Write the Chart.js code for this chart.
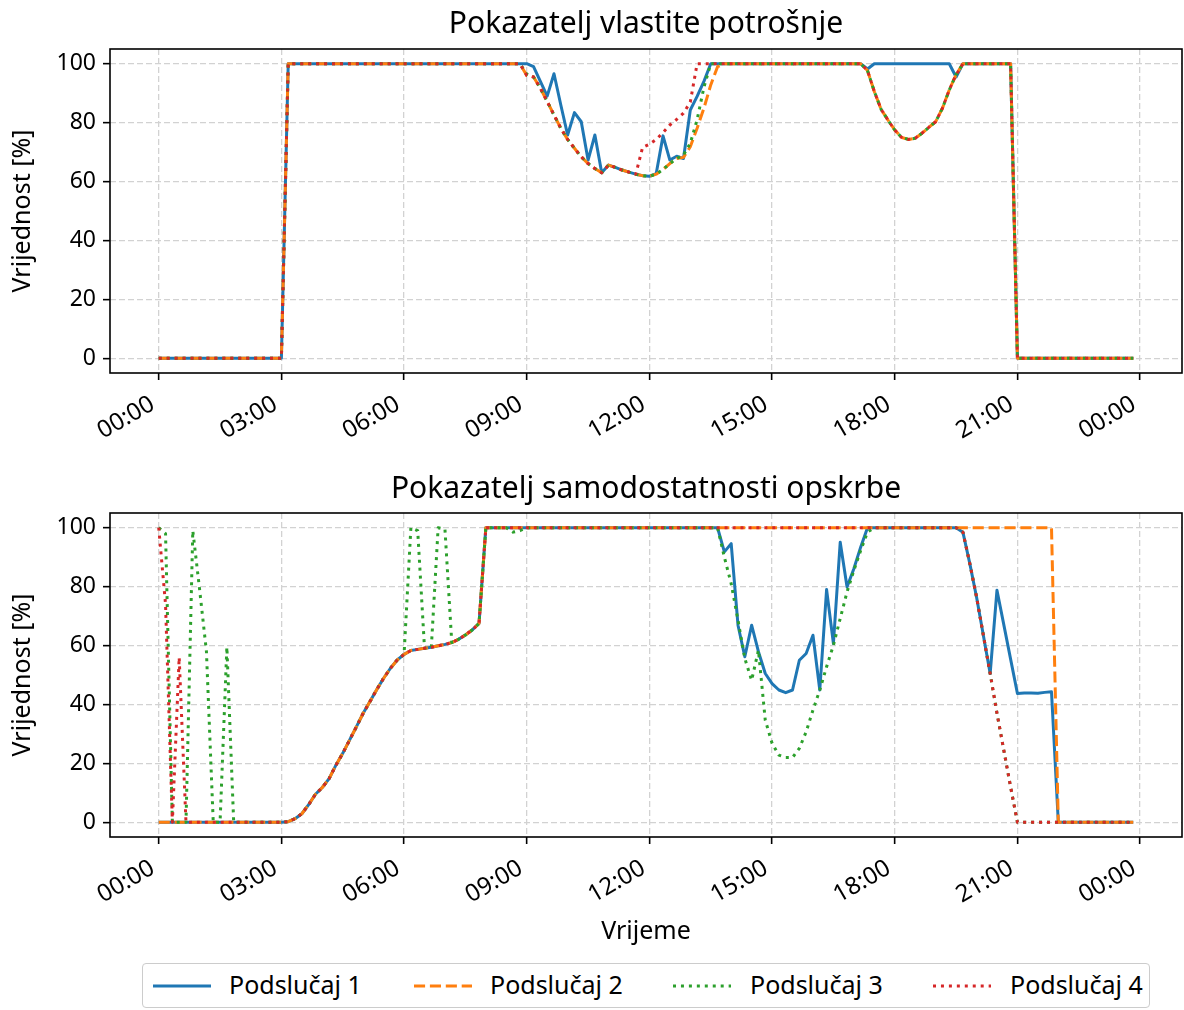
<!DOCTYPE html>
<html>
<head>
<meta charset="utf-8">
<script src="https://cdn.jsdelivr.net/npm/chart.js@4.4.1/dist/chart.umd.min.js"></script>
<style>
  html, body { margin: 0; padding: 0; background: #fff; }
  body { width: 1184px; height: 1010px; position: relative; overflow: hidden; font-family: "Noto Sans", sans-serif; }
  #c1 { position: absolute; left: 0; top: 0; }
  #c2 { position: absolute; left: 0; top: 460px; }
  #legend { position: absolute; left: 142px; top: 963px; width: 1006px; height: 43px;
            border: 1px solid #cccccc; border-radius: 4px; background: #fff; }
  .item-line { position: absolute; top: 14px; width: 58px; height: 16px; }
  .item-text { position: absolute; top: 5px; font-size: 25px; line-height: 30px; color: #000; white-space: nowrap; }
</style>
</head>
<body>
<canvas id="c1" width="1184" height="450"></canvas>
<canvas id="c2" width="1184" height="500"></canvas>
<div id="legend"></div>
<script>
// Time of day, 10-minute steps
const times = [
  "00:00","00:10","00:20","00:30","00:40","00:50","01:00","01:10","01:20","01:30","01:40","01:50",
  "02:00","02:10","02:20","02:30","02:40","02:50","03:00","03:10","03:20","03:30","03:40","03:50",
  "04:00","04:10","04:20","04:30","04:40","04:50","05:00","05:10","05:20","05:30","05:40","05:50",
  "06:00","06:10","06:20","06:30","06:40","06:50","07:00","07:10","07:20","07:30","07:40","07:50",
  "08:00","08:10","08:20","08:30","08:40","08:50","09:00","09:10","09:20","09:30","09:40","09:50",
  "10:00","10:10","10:20","10:30","10:40","10:50","11:00","11:10","11:20","11:30","11:40","11:50",
  "12:00","12:10","12:20","12:30","12:40","12:50","13:00","13:10","13:20","13:30","13:40","13:50",
  "14:00","14:10","14:20","14:30","14:40","14:50","15:00","15:10","15:20","15:30","15:40","15:50",
  "16:00","16:10","16:20","16:30","16:40","16:50","17:00","17:10","17:20","17:30","17:40","17:50",
  "18:00","18:10","18:20","18:30","18:40","18:50","19:00","19:10","19:20","19:30","19:40","19:50",
  "20:00","20:10","20:20","20:30","20:40","20:50","21:00","21:10","21:20","21:30","21:40","21:50",
  "22:00","22:10","22:20","22:30","22:40","22:50","23:00","23:10","23:20","23:30","23:40","23:50"
];

const seriesNames = ["Podslučaj 1", "Podslučaj 2", "Podslučaj 3", "Podslučaj 4"];

// Pokazatelj vlastite potrošnje [%]
const selfUse1 = [
  0,0,0,0,0,0,0,0,0,0,0,0,
  0,0,0,0,0,0,0,100,100,100,100,100,
  100,100,100,100,100,100,100,100,100,100,100,100,
  100,100,100,100,100,100,100,100,100,100,100,100,
  100,100,100,100,100,100,100,99,94,89,96.6,86,
  75.8,83.4,80.3,67.3,75.8,63,65.6,64.8,63.9,63.2,62.5,62,
  61.8,62.7,75.5,67.3,68.6,67.8,84.3,88.9,94,100,100,100,
  100,100,100,100,100,100,100,100,100,100,100,100,
  100,100,100,100,100,100,100,100,98.2,100,100,100,
  100,100,100,100,100,100,100,100,100,95.5,100,100,
  100,100,100,100,100,100,0,0,0,0,0,0,
  0,0,0,0,0,0,0,0,0,0,0,0
];
const selfUse2 = [
  0,0,0,0,0,0,0,0,0,0,0,0,
  0,0,0,0,0,0,0,100,100,100,100,100,
  100,100,100,100,100,100,100,100,100,100,100,100,
  100,100,100,100,100,100,100,100,100,100,100,100,
  100,100,100,100,100,100,96,95.5,91.7,87.2,82.6,78.1,
  74.3,71.3,68.4,66.1,64.4,63,65.6,64.8,63.9,63.2,62.5,62,
  61.8,62.5,64.1,66.1,67.8,68.2,71.8,78.1,84.9,92.8,99,100,
  100,100,100,100,100,100,100,100,100,100,100,100,
  100,100,100,100,100,100,100,100,97.7,90.6,84.5,80.9,
  77.5,75,74.3,74.7,76.4,78.4,80.3,84.9,91.1,96.3,100,100,
  100,100,100,100,100,100,0,0,0,0,0,0,
  0,0,0,0,0,0,0,0,0,0,0,0
];
const selfUse3 = [
  0,0,0,0,0,0,0,0,0,0,0,0,
  0,0,0,0,0,0,0,100,100,100,100,100,
  100,100,100,100,100,100,100,100,100,100,100,100,
  100,100,100,100,100,100,100,100,100,100,100,100,
  100,100,100,100,100,100,96.5,95.5,91.7,87.2,82.6,78.1,
  74.3,71.3,68.4,66.1,64.4,63,65.6,64.8,63.9,63.2,62.5,62,
  61.8,62.5,64.1,66.1,67.8,69,73,81,92,100,100,100,
  100,100,100,100,100,100,100,100,100,100,100,100,
  100,100,100,100,100,100,100,100,97.7,90.6,84.5,80.9,
  77.5,75,74.3,74.7,76.4,78.4,80.3,84.9,91.1,96.3,100,100,
  100,100,100,100,100,100,0,0,0,0,0,0,
  0,0,0,0,0,0,0,0,0,0,0,0
];
const selfUse4 = [
  0,0,0,0,0,0,0,0,0,0,0,0,
  0,0,0,0,0,0,0,100,100,100,100,100,
  100,100,100,100,100,100,100,100,100,100,100,100,
  100,100,100,100,100,100,100,100,100,100,100,100,
  100,100,100,100,100,100,96,95.5,91.7,87.2,82.6,78.1,
  74.3,71.3,68.4,66.1,64.4,63,65.6,64.8,63.9,63.2,62.5,71.6,
  72.7,74.3,76.6,79.2,81.1,83.2,87,100,100,100,100,100,
  100,100,100,100,100,100,100,100,100,100,100,100,
  100,100,100,100,100,100,100,100,97.7,90.6,84.5,80.9,
  77.5,75,74.3,74.7,76.4,78.4,80.3,84.9,91.1,96.3,100,100,
  100,100,100,100,100,100,0,0,0,0,0,0,
  0,0,0,0,0,0,0,0,0,0,0,0
];

// Pokazatelj samodostatnosti opskrbe [%]
const selfSuff1 = [
  0,0,0,0,0,0,0,0,0,0,0,0,
  0,0,0,0,0,0,0,0.2,1.2,2.9,6,9.5,
  11.8,14.8,19.4,23.4,27.9,32.4,37,41,45.1,48.9,52.3,55.1,
  57,58.3,58.7,59.1,59.4,59.9,60.4,61,62.1,63.6,65.3,67.5,
  100,100,100,100,100,100,100,100,100,100,100,100,
  100,100,100,100,100,100,100,100,100,100,100,100,
  100,100,100,100,100,100,100,100,100,100,100,91.8,
  94.6,66.9,56.2,66.9,57.9,50.5,47.1,44.9,44,44.9,55,57.3,
  63.5,44.9,79,60.7,95.1,79.9,86.1,93.4,100,100,100,100,
  100,100,100,100,100,100,100,100,100,100,98.5,88,
  76.5,63.5,50.5,78.8,67.1,55.4,43.7,43.9,43.9,43.8,44.1,44.3,
  0,0,0,0,0,0,0,0,0,0,0,0
];
const selfSuff2 = [
  0,0,0,0,0,0,0,0,0,0,0,0,
  0,0,0,0,0,0,0,0.2,1.2,2.9,6,9.5,
  11.8,14.8,19.4,23.4,27.9,32.4,37,41,45.1,48.9,52.3,55.1,
  57,58.3,58.7,59.1,59.4,59.9,60.4,61,62.1,63.6,65.3,67.5,
  100,100,100,100,100,100,100,100,100,100,100,100,
  100,100,100,100,100,100,100,100,100,100,100,100,
  100,100,100,100,100,100,100,100,100,100,100,100,
  100,100,100,100,100,100,100,100,100,100,100,100,
  100,100,100,100,100,100,100,100,100,100,100,100,
  100,100,100,100,100,100,100,100,100,100,100,100,
  100,100,100,100,100,100,100,100,100,100,100,100,
  0,0,0,0,0,0,0,0,0,0,0,0
];
const selfSuff3 = [
  100,98,0,0,0,99,79,58,0,0,59.5,0,
  0,0,0,0,0,0,0,0.2,1.2,2.9,6,9.5,
  11.8,14.8,19.4,23.4,27.9,32.4,37,41,45.1,48.9,52.3,55.1,
  57,100,99,59.1,59.4,100,99.5,61,62.1,63.6,65.3,67.5,
  100,100,100,100,98.5,99,100,100,100,100,100,100,
  100,100,100,100,100,100,100,100,100,100,100,100,
  100,100,100,100,100,100,100,100,100,100,100,90,
  81,68.6,55.6,48.2,58.4,34.7,26.8,22.8,22,22,25.1,30.7,
  38.1,44.9,52.8,60.1,69.2,78.2,85.5,92.3,98.5,100,100,100,
  100,100,100,100,100,100,100,100,100,100,98.5,88,
  76.5,63.5,50.5,37,24.5,12,0,0,0,0,0,0,
  0,0,0,0,0,0,0,0,0,0,0,0
];
const selfSuff4 = [
  100,74,0,56,0,0,0,0,0,0,0,0,
  0,0,0,0,0,0,0,0.2,1.2,2.9,6,9.5,
  11.8,14.8,19.4,23.4,27.9,32.4,37,41,45.1,48.9,52.3,55.1,
  57,58.3,58.7,59.1,59.4,59.9,60.4,61,62.1,63.6,65.3,67.5,
  100,100,100,100,100,100,100,100,100,100,100,100,
  100,100,100,100,100,100,100,100,100,100,100,100,
  100,100,100,100,100,100,100,100,100,100,100,100,
  100,100,100,100,100,100,100,100,100,100,100,100,
  100,100,100,100,100,100,100,100,100,100,100,100,
  100,100,100,100,100,100,100,100,100,100,98.5,88,
  76.5,63.5,50.5,37,24.5,12,0,0,0,0,0,0,
  0,0,0,0,0,0,0,0,0,0,0,0
];

// Axis ticks
const xTickMinutes = [0, 180, 360, 540, 720, 900, 1080, 1260, 1440];
const xTickLabels = ["00:00","03:00","06:00","09:00","12:00","15:00","18:00","21:00","00:00"];
const yTickValues = [0, 20, 40, 60, 80, 100];

const FONT = '"Noto Sans", sans-serif';
const LW = 3;
const styles = [
  { color: '#1f77b4', dash: [] },
  { color: '#ff7f0e', dash: [11.1, 4.8] },
  { color: '#2ca02c', dash: [3, 4.95] },
  { color: '#d62728', dash: [3, 4.95] }
];

// minutes since midnight for the linear time axis
const minutes = times.map(t => { const [h, m] = t.split(':').map(Number); return h * 60 + m; });

// black box around the plotting area
const framePlugin = {
  id: 'frame',
  afterDatasetsDraw(chart) {
    const { ctx, chartArea: a } = chart;
    ctx.save();
    ctx.strokeStyle = '#000';
    ctx.lineWidth = 1.6;
    ctx.setLineDash([]);
    ctx.strokeRect(a.left, a.top, a.right - a.left, a.bottom - a.top);
    ctx.restore();
  }
};

function makeChart(canvasId, title, seriesList, opt) {
  const datasets = seriesList.map((vals, i) => ({
    label: seriesNames[i],
    data: vals,
    borderColor: styles[i].color,
    backgroundColor: styles[i].color,
    borderWidth: LW,
    borderDash: styles[i].dash,
    borderCapStyle: 'butt',
    borderJoinStyle: 'round',
    pointRadius: 0,
    tension: 0,
    fill: false,
    order: 4 - i
  }));
  return new Chart(document.getElementById(canvasId), {
    type: 'line',
    data: { labels: minutes, datasets },
    plugins: [framePlugin],
    options: {
      responsive: false,
      animation: false,
      events: [],
      layout: { padding: { left: 0, right: 2, top: 0, bottom: 0 } },
      plugins: {
        legend: { display: false },
        tooltip: { enabled: false },
        title: {
          display: true, text: title, fullSize: false, color: '#000',
          font: { family: FONT, size: 30, weight: 'normal', lineHeight: 1 },
          padding: opt.titlePad
        }
      },
      scales: {
        x: {
          type: 'linear', bounds: 'data', min: -71.5, max: 1501.5,
          afterBuildTicks: s => { s.ticks = xTickMinutes.map(v => ({ value: v })); },
          afterFit: s => { s.height = opt.xHeight; },
          ticks: {
            autoSkip: false, minRotation: 30, maxRotation: 30, padding: 10, labelOffset: -6, color: '#000',
            font: { family: FONT, size: 24 },
            callback: (v, idx) => xTickLabels[idx]
          },
          grid: { color: '#d2d2d2', lineWidth: 1.3, drawTicks: true, tickLength: 7, tickColor: '#000', tickWidth: 1.6, tickBorderDash: [] },
          border: { display: false, dash: [6, 3] },
          title: opt.xTitle ? {
            display: true, text: opt.xTitle, color: '#000',
            font: { family: FONT, size: 25, lineHeight: 1.2 }, padding: { top: 0, bottom: 13 }
          } : { display: false }
        },
        y: {
          min: -5, max: 105,
          afterBuildTicks: s => { s.ticks = yTickValues.map(v => ({ value: v })); },
          afterFit: s => { s.width = 110; },
          ticks: { padding: 7, color: '#000', font: { family: FONT, size: 23 } },
          grid: { color: '#d2d2d2', lineWidth: 1.3, drawTicks: true, tickLength: 7, tickColor: '#000', tickWidth: 1.6, tickBorderDash: [] },
          border: { display: false, dash: [6, 3] },
          title: {
            display: true, text: 'Vrijednost [%]', color: '#000',
            font: { family: FONT, size: 25, lineHeight: 1.2 }, padding: { top: 8, bottom: 0 }
          }
        }
      }
    }
  });
}

makeChart('c1', 'Pokazatelj vlastite potrošnje',
  [selfUse1, selfUse2, selfUse3, selfUse4],
  { titlePad: { top: 9, bottom: 10 }, xHeight: 77 });

makeChart('c2', 'Pokazatelj samodostatnosti opskrbe',
  [selfSuff1, selfSuff2, selfSuff3, selfSuff4],
  { titlePad: { top: 14, bottom: 9 }, xHeight: 123, xTitle: 'Vrijeme' });

// legend below both panels
const legend = document.getElementById('legend');
const lineLeft = [10, 271, 530, 790];
const textLeft = [86, 347, 607, 867];
seriesNames.forEach((name, i) => {
  const svg = document.createElementNS('http://www.w3.org/2000/svg', 'svg');
  svg.setAttribute('class', 'item-line');
  svg.setAttribute('width', '58');
  svg.setAttribute('height', '16');
  svg.style.left = lineLeft[i] + 'px';
  const ln = document.createElementNS('http://www.w3.org/2000/svg', 'line');
  ln.setAttribute('x1', '0'); ln.setAttribute('y1', '8');
  ln.setAttribute('x2', '58'); ln.setAttribute('y2', '8');
  ln.setAttribute('stroke', styles[i].color);
  ln.setAttribute('stroke-width', String(LW));
  if (styles[i].dash.length) ln.setAttribute('stroke-dasharray', styles[i].dash.join(' '));
  svg.appendChild(ln);
  legend.appendChild(svg);
  const sp = document.createElement('span');
  sp.className = 'item-text';
  sp.style.left = textLeft[i] + 'px';
  sp.textContent = name;
  legend.appendChild(sp);
});
</script>
</body>
</html>
